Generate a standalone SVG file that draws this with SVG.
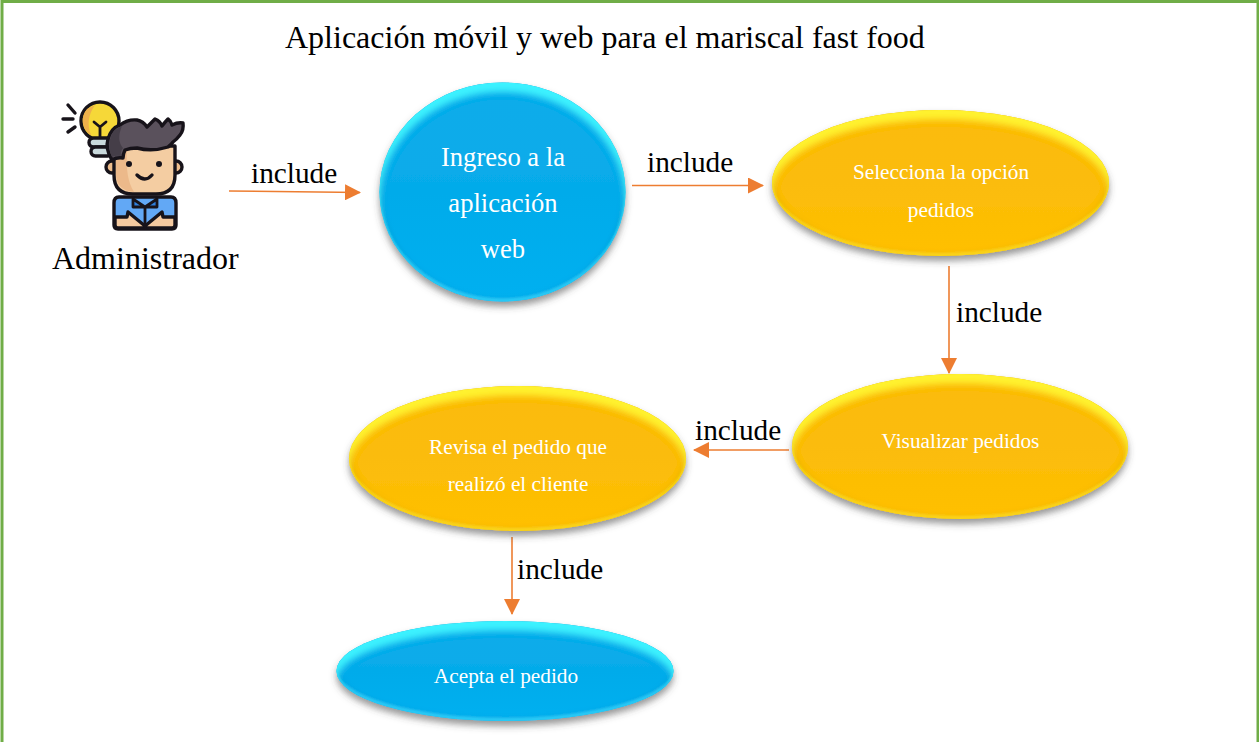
<svg xmlns="http://www.w3.org/2000/svg" width="1259" height="742" viewBox="0 0 1259 742">
<style>
  text { font-family: "Liberation Serif", "Times New Roman", serif; }
  .dark { fill: #000; }
  .title { font-size: 32px; }
  .actor { font-size: 32px; }
  .rel { font-size: 29.3px; }
  .big { fill: #fff; font-size: 26.6px; text-anchor: middle; }
  .small { fill: #fff; font-size: 21.3px; text-anchor: middle; }
  .link { stroke: #ed7d31; stroke-width: 1.6; fill: none; }
  .head { fill: #ed7d31; stroke: none; }
  .ink { stroke: #17131a; stroke-width: 3.4; stroke-linecap: round; stroke-linejoin: round; }
</style>
<defs>
  <linearGradient id="blueFill" x1="0" y1="0" x2="0" y2="1">
    <stop offset="0" stop-color="#12acea"/><stop offset="0.5" stop-color="#05abea"/><stop offset="1" stop-color="#00b0f0"/>
  </linearGradient>
  <linearGradient id="goldFill" x1="0" y1="0" x2="0" y2="1">
    <stop offset="0" stop-color="#fbbb0c"/><stop offset="0.5" stop-color="#fbbc0a"/><stop offset="1" stop-color="#ffc000"/>
  </linearGradient>
  <filter id="blueBevel" x="-10%" y="-15%" width="120%" height="135%">
    <feOffset in="SourceAlpha" dy="5" result="s0"/>
    <feGaussianBlur in="s0" stdDeviation="3.500" result="s1"/>
    <feFlood flood-color="#444" flood-opacity="0.55"/>
    <feComposite in2="s1" operator="in" result="shadow"/>
    <feGaussianBlur in="SourceAlpha" stdDeviation="3" result="e"/>
    <feComposite in="SourceAlpha" in2="e" operator="out" result="edgeBand"/>
    <feFlood flood-color="#0077a8" flood-opacity="0.7"/>
    <feComposite in2="edgeBand" operator="in" result="edge"/>
    <feGaussianBlur in="SourceAlpha" stdDeviation="3" result="b"/>
    <feOffset in="b" dy="9" result="bDown"/>
    <feComposite in="SourceAlpha" in2="bDown" operator="out" result="topRim"/>
    <feFlood flood-color="#3cf2ff"/>
    <feComposite in2="topRim" operator="in" result="topLit"/>
    <feGaussianBlur in="SourceAlpha" stdDeviation="1" result="c"/>
    <feOffset in="c" dy="-3" result="cUp"/>
    <feComposite in="SourceAlpha" in2="cUp" operator="out" result="lowRim"/>
    <feFlood flood-color="#30d8ff" flood-opacity="0.7"/>
    <feComposite in2="lowRim" operator="in" result="lowLit"/>
    <feMerge><feMergeNode in="shadow"/><feMergeNode in="SourceGraphic"/><feMergeNode in="edge"/><feMergeNode in="lowLit"/><feMergeNode in="topLit"/></feMerge>
  </filter>
  <filter id="goldBevel" x="-10%" y="-15%" width="120%" height="135%">
    <feOffset in="SourceAlpha" dy="5" result="s0"/>
    <feGaussianBlur in="s0" stdDeviation="3.500" result="s1"/>
    <feFlood flood-color="#444" flood-opacity="0.55"/>
    <feComposite in2="s1" operator="in" result="shadow"/>
    <feGaussianBlur in="SourceAlpha" stdDeviation="3" result="e"/>
    <feComposite in="SourceAlpha" in2="e" operator="out" result="edgeBand"/>
    <feFlood flood-color="#b88a00" flood-opacity="0.75"/>
    <feComposite in2="edgeBand" operator="in" result="edge"/>
    <feGaussianBlur in="SourceAlpha" stdDeviation="3" result="b"/>
    <feOffset in="b" dy="9" result="bDown"/>
    <feComposite in="SourceAlpha" in2="bDown" operator="out" result="topRim"/>
    <feFlood flood-color="#fff22e"/>
    <feComposite in2="topRim" operator="in" result="topLit"/>
    <feGaussianBlur in="SourceAlpha" stdDeviation="1" result="c"/>
    <feOffset in="c" dy="-3" result="cUp"/>
    <feComposite in="SourceAlpha" in2="cUp" operator="out" result="lowRim"/>
    <feFlood flood-color="#ffe020" flood-opacity="0.7"/>
    <feComposite in2="lowRim" operator="in" result="lowLit"/>
    <feMerge><feMergeNode in="shadow"/><feMergeNode in="SourceGraphic"/><feMergeNode in="edge"/><feMergeNode in="lowLit"/><feMergeNode in="topLit"/></feMerge>
  </filter>
  <marker id="tip" viewBox="0 0 16 16" refX="15" refY="8" markerWidth="16" markerHeight="16" markerUnits="userSpaceOnUse" orient="auto">
    <path class="head" d="M0 0L16 8L0 16Z"/>
  </marker>
</defs>

<rect width="1259" height="742" fill="#fff"/>
<path d="M2 742V1.500H1258V742" fill="none" stroke="#70ad47" stroke-width="3"/>
<text class="dark title" x="285" y="48">Aplicación móvil y web para el mariscal fast food</text>

<g id="connectors">
  <line class="link" x1="229" y1="191" x2="360" y2="192.500" marker-end="url(#tip)"/>
  <line class="link" x1="632" y1="185.500" x2="763" y2="185.500" marker-end="url(#tip)"/>
  <line class="link" x1="949" y1="266" x2="949" y2="373" marker-end="url(#tip)"/>
  <line class="link" x1="789" y1="450" x2="694" y2="450" marker-end="url(#tip)"/>
  <line class="link" x1="512" y1="537" x2="512" y2="614" marker-end="url(#tip)"/>
  <text class="dark rel" x="251" y="183">include</text>
  <text class="dark rel" x="647" y="172">include</text>
  <text class="dark rel" x="956" y="322">include</text>
  <text class="dark rel" x="695" y="440">include</text>
  <text class="dark rel" x="517" y="579">include</text>
</g>

<g id="administrador">
  <!-- bulb -->
  <g class="ink">
    <path d="M68 105L75 113M63 119H73M68 132L75 127" fill="none"/>
    <circle cx="100" cy="121" r="19" fill="#f6d838"/>
    <rect x="89" y="138" width="23" height="9" rx="4.500" fill="#c9d9dc"/>
    <rect x="91" y="147" width="21" height="9" rx="4.500" fill="#c9d9dc"/>
    <path d="M94 122L100 127L106 122M100 127V137" fill="none" stroke-width="2.800"/>
  </g>
  <path d="M87 109A17 17 0 0 0 91 135C87 125 88 115 95 105Z" fill="#eeb04b"/>
  <!-- body -->
  <g class="ink">
    <path d="M119 197H171Q176 197 176 203V225Q176 229 172 229H118Q114 229 114 225V203Q114 197 119 197Z" fill="#62a8f5"/>
    <path d="M115 217H127L128 212L145 226L162 212L163 217H175V225Q175 228 172 228H118Q115 228 115 225Z" fill="#f5caa0"/>
    <path d="M145 207V228M145 207L133 199V207ZM145 207L157 199V207Z" fill="#2f7fdc" stroke-width="2.800"/>
  </g>
  <!-- ears and face -->
  <g class="ink">
    <circle cx="112" cy="167" r="6" fill="#eebd8c"/>
    <circle cx="176" cy="167" r="6" fill="#eebd8c"/>
    <path d="M114 146H175V175Q175 194 156 194H133Q114 194 114 175Z" fill="#f4cda2"/>
  </g>
  <path d="M116 150H127Q125 178 134 192Q116 190 116 174Z" fill="#ecb98a"/>
  <circle cx="129" cy="164" r="3" fill="#17131a"/>
  <circle cx="159" cy="164" r="3" fill="#17131a"/>
  <path class="ink" d="M137 175Q145 183 152 175" fill="none"/>
  <!-- hair -->
  <path class="ink" fill="#5a515c" d="M112 160Q105 149 108 139Q111 128 120 125Q128 119 137 120Q143 121 147 127Q151 123 155 119Q160 121 162 126Q165 122 168 119Q171 121 172 125Q178 122 183 123Q184 130 180 135Q177 139 173 142Q171 145 168 147Q152 152 137 148Q130 148 125 150Q123 154 123 158Q117 157 112 160Z"/>
  <path d="M112 157Q107 146 111 136Q114 129 122 126Q116 140 123 148Q120 152 121 156Q115 155 112 157Z" fill="#453e48"/>
  <text class="dark actor" x="52" y="269">Administrador</text>
</g>

<g id="ingreso">
  <ellipse cx="502.500" cy="192" rx="123" ry="109.500" fill="url(#blueFill)" filter="url(#blueBevel)"/>
  <text class="big" x="503" y="166">Ingreso a la</text>
  <text class="big" x="503" y="212">aplicación</text>
  <text class="big" x="503" y="258">web</text>
</g>

<g id="selecciona">
  <ellipse cx="940.500" cy="183" rx="168.500" ry="73" fill="url(#goldFill)" filter="url(#goldBevel)"/>
  <text class="small" x="941" y="179">Selecciona la opción</text>
  <text class="small" x="941" y="217">pedidos</text>
</g>

<g id="visualizar">
  <ellipse cx="960" cy="446.500" rx="168" ry="72.500" fill="url(#goldFill)" filter="url(#goldBevel)"/>
  <text class="small" x="960.500" y="448">Visualizar pedidos</text>
</g>

<g id="revisa">
  <ellipse cx="517.500" cy="458.500" rx="168.500" ry="72.500" fill="url(#goldFill)" filter="url(#goldBevel)"/>
  <text class="small" x="518" y="454">Revisa el pedido que</text>
  <text class="small" x="518" y="491">realizó el cliente</text>
</g>

<g id="acepta">
  <ellipse cx="505" cy="671" rx="168.500" ry="50" fill="url(#blueFill)" filter="url(#blueBevel)"/>
  <text class="small" x="506" y="683">Acepta el pedido</text>
</g>
</svg>
